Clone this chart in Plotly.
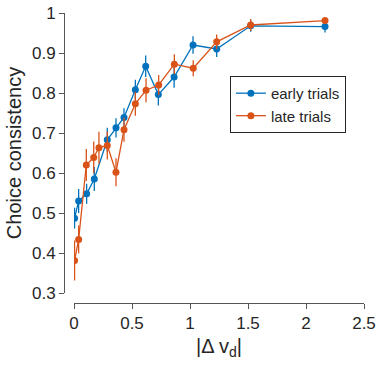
import plotly.graph_objects as go

# Early trials (blue)
x_early = [0.005, 0.04, 0.109, 0.175, 0.287, 0.362, 0.431, 0.529, 0.618, 0.727, 0.863, 1.026, 1.23, 1.523, 2.164]
y_early = [0.487, 0.53, 0.548, 0.585, 0.683, 0.713, 0.739, 0.808, 0.867, 0.796, 0.84, 0.92, 0.91, 0.968, 0.966]
e_early = [0.026, 0.03, 0.025, 0.03, 0.03, 0.024, 0.023, 0.025, 0.027, 0.027, 0.027, 0.022, 0.02, 0.015, 0.015]

# Late trials (orange)
x_late = [0.005, 0.04, 0.106, 0.17, 0.215, 0.287, 0.362, 0.431, 0.529, 0.621, 0.73, 0.865, 1.028, 1.23, 1.523, 2.164]
y_late = [0.381, 0.434, 0.62, 0.639, 0.663, 0.669, 0.602, 0.708, 0.773, 0.807, 0.82, 0.872, 0.862, 0.928, 0.97, 0.981]
e_late = [0.05, 0.035, 0.04, 0.04, 0.04, 0.035, 0.035, 0.03, 0.03, 0.03, 0.025, 0.025, 0.02, 0.018, 0.015, 0.006]

x_ticks = [0, 0.5, 1, 1.5, 2, 2.5]
x_tick_labels = ["0", "0.5", "1", "1.5", "2", "2.5"]
y_ticks = [0.3, 0.4, 0.5, 0.6, 0.7, 0.8, 0.9, 1.0]
y_tick_labels = ["0.3", "0.4", "0.5", "0.6", "0.7", "0.8", "0.9", "1"]

BLUE = "#0072BD"
ORANGE = "#D95319"
FONT = "Liberation Sans, Arial, Helvetica, sans-serif"
TXT = "#262626"
AX = "#555555"

fig = go.Figure()
for xs, ys, es, col, name in [
    (x_early, y_early, e_early, BLUE, "early trials"),
    (x_late, y_late, e_late, ORANGE, "late trials"),
]:
    fig.add_trace(go.Scatter(
        x=xs, y=ys, name=name, mode="lines+markers",
        line=dict(color=col, width=1.3),
        marker=dict(color=col, size=7),
        error_y=dict(type="data", array=es, visible=True, color=col, thickness=1.3, width=0),
    ))

fig.update_layout(
    width=384, height=368,
    margin=dict(l=64, r=20, t=13, b=65, autoexpand=False),
    paper_bgcolor="white", plot_bgcolor="white",
    font=dict(family=FONT, color=TXT, size=17),
    showlegend=True,
    legend=dict(
        x=0.553, y=0.783, xanchor="left", yanchor="top",
        bordercolor=TXT, borderwidth=1, bgcolor="white",
        font=dict(size=15, family=FONT, color=TXT),
        itemwidth=30, tracegroupgap=0,
    ),
    xaxis=dict(
        range=[0, 2.5], domain=[10 / 300, 1], anchor="free", position=0,
        automargin=False, ticklabeloverflow="allow",
        tickmode="array", tickvals=x_ticks, ticktext=x_tick_labels,
        ticks="outside", ticklen=5, tickcolor=AX, tickwidth=1,
        showline=True, linecolor=AX, linewidth=1, showgrid=False, zeroline=False,
        tickfont=dict(size=17, family=FONT, color=TXT),
        title=dict(text="|Δ v<sub>d</sub>|", font=dict(size=20, family=FONT, color=TXT), standoff=6),
    ),
    yaxis=dict(
        range=[0.3, 1.0], domain=[10 / 290, 1], anchor="free", position=0,
        automargin=False, ticklabeloverflow="allow",
        tickmode="array", tickvals=y_ticks, ticktext=y_tick_labels,
        ticks="outside", ticklen=5, tickcolor=AX, tickwidth=1,
        showline=True, linecolor=AX, linewidth=1, showgrid=False, zeroline=False,
        tickfont=dict(size=17, family=FONT, color=TXT),
        title=dict(text="Choice consistency", font=dict(size=20, family=FONT, color=TXT), standoff=3),
    ),
)

# remove the page's default 8px body margin so the figure fills the window
fig.write_html(
    "out.html",
    config={"displayModeBar": False},
    post_script="document.body.style.margin='0';",
)
